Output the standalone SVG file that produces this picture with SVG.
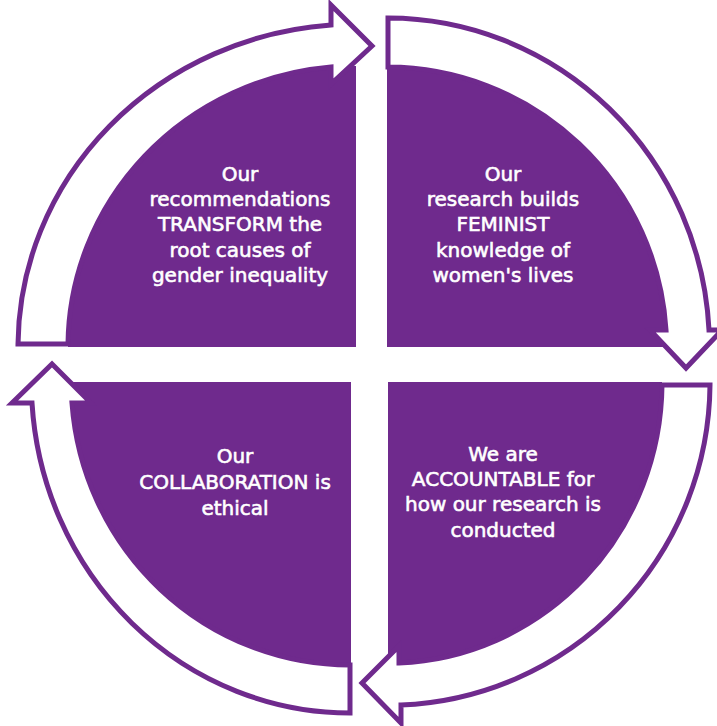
<svg xmlns="http://www.w3.org/2000/svg" width="717" height="726" viewBox="0 0 717 726">
<style>
.q{fill:#6F2A8D;stroke:none}
.arr{fill:#FFFFFF;stroke:#6F2A8D;stroke-width:5;stroke-linejoin:miter}
.t{fill:#FFFFFF;stroke:#FFFFFF;stroke-width:0.6;font-family:"DejaVu Sans","Liberation Sans",sans-serif;font-size:20px;text-anchor:middle}
</style>
<rect width="717" height="726" fill="#FFFFFF"/>
<g id="node-transform">
<path class="q" d="M356,347 L68,347 A288 281 0 0 1 356,66 Z"/>
<text class="t" x="240" y="181">Our</text>
<text class="t" x="240" y="206">recommendations</text>
<text class="t" x="240" y="231">TRANSFORM the</text>
<text class="t" x="240" y="257">root causes of</text>
<text class="t" x="240" y="282">gender inequality</text>
</g>
<g id="node-feminist">
<path class="q" d="M387,347 L387,67 A280 280 0 0 1 667,347 Z"/>
<text class="t" x="503" y="181">Our</text>
<text class="t" x="503" y="206">research builds</text>
<text class="t" x="503" y="231">FEMINIST</text>
<text class="t" x="503" y="257">knowledge of</text>
<text class="t" x="503" y="282">women's lives</text>
</g>
<g id="node-accountable">
<path class="q" d="M388,382 L662,382 A274 281 0 0 1 388,663 Z"/>
<text class="t" x="503" y="461">We are</text>
<text class="t" x="503" y="486">ACCOUNTABLE for</text>
<text class="t" x="503" y="511">how our research is</text>
<text class="t" x="503" y="537">conducted</text>
</g>
<g id="node-collaboration">
<path class="q" d="M351,382 L351,665 A279 283 0 0 1 72,382 Z"/>
<text class="t" x="235" y="463">Our</text>
<text class="t" x="235" y="489">COLLABORATION is</text>
<text class="t" x="235" y="515">ethical</text>
</g>
<g id="connectors">
<path class="arr" d="M18,344 A338 323 0 0 1 331,25 L331,5 L372,46 L331,84 L331,67 A288 281 0 0 0 68,344 Z"/>
<path class="arr" d="M388,18 A322 329 0 0 1 709,330 L722,330 L686,368 L650,330 L666,330 A280 280 0 0 0 388,67 Z"/>
<path class="arr" d="M710,385 A322 323 0 0 1 401,705 L401,723 L362,683 L399,646 L399,663 A274 281 0 0 0 662,385 Z"/>
<path class="arr" d="M350,713 A319 331 0 0 1 32,403 L12,403 L52,364 L91,403 L72,403 A279 283 0 0 0 350,665 Z"/>
</g>
</svg>
